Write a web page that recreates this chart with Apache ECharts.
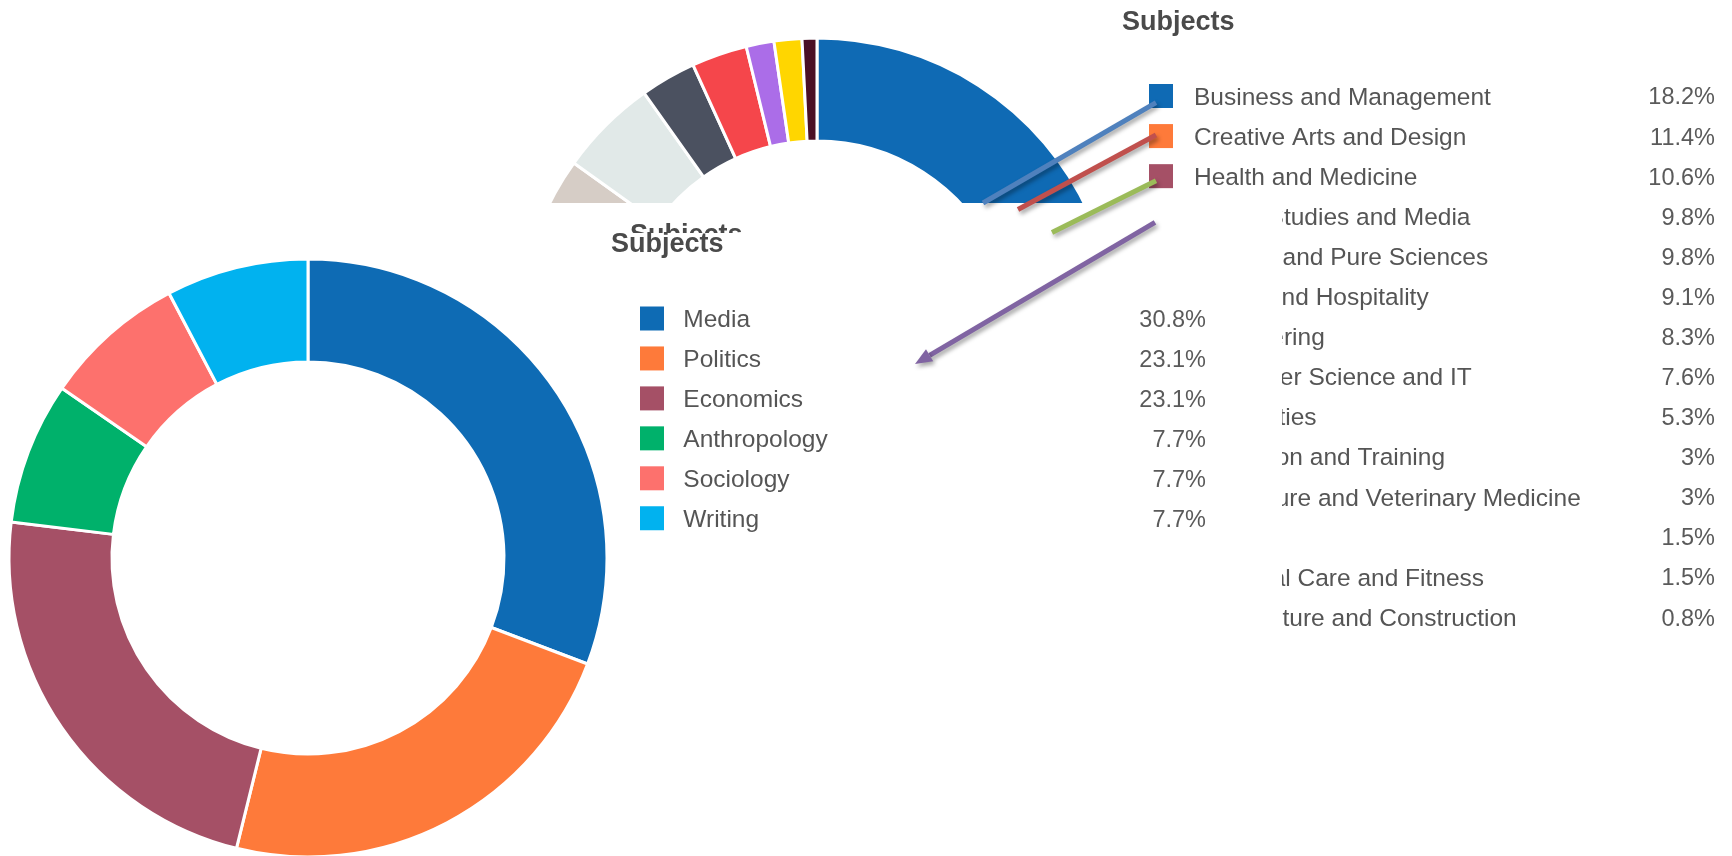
<!DOCTYPE html>
<html>
<head>
<meta charset="utf-8">
<script src="https://cdn.jsdelivr.net/npm/echarts@6.0.0/dist/echarts.min.js"></script>
<style>
  html, body { margin: 0; padding: 0; background: #ffffff; }
  #chart { width: 1732px; height: 856px; }
</style>
</head>
<body>
<div id="chart"></div>
<script>
// Overall subject mix (percent of courses)
const subjects = [
  'Business and Management', 'Creative Arts and Design', 'Health and Medicine',
  'Social Studies and Media', 'Applied and Pure Sciences', 'Travel and Hospitality',
  'Engineering', 'Computer Science and IT', 'Humanities', 'Education and Training',
  'Agriculture and Veterinary Medicine', 'Law', 'Personal Care and Fitness',
  'Architecture and Construction'
];
const subjectShares = [18.2, 11.4, 10.6, 9.8, 9.8, 9.1, 8.3, 7.6, 5.3, 3, 3, 1.5, 1.5, 0.8];
const subjectColors = [
  '#0f6ab4', '#fe7a3a', '#a55066', '#00b16a', '#fe7070', '#00b2ef',
  '#8cc152', '#d6cdc6', '#e1e9e8', '#4b5160', '#f5464b', '#ab6de8', '#ffd600', '#4a1026'
];

// Breakdown of "Social Studies and Media"
const socialTopics = ['Media', 'Politics', 'Economics', 'Anthropology', 'Sociology', 'Writing'];
const socialShares = [30.8, 23.1, 23.1, 7.7, 7.7, 7.7];
const socialColors = ['#0e6bb4', '#fe7a3a', '#a55066', '#00b16b', '#fd716d', '#01b2ef'];

const titleText = 'Subjects';
const FONT = '"Liberation Sans", Arial, sans-serif';

function donut(names, values, colors, center, z) {
  return {
    type: 'pie',
    z: z,
    center: center,
    radius: [196, 299],
    startAngle: 90,
    clockwise: true,
    silent: true,
    animation: false,
    label: { show: false },
    labelLine: { show: false },
    itemStyle: { borderColor: '#ffffff', borderWidth: 3 },
    data: names.map((n, i) => ({ name: n, value: values[i], itemStyle: { color: colors[i] } }))
  };
}

// Legend with the name on the left and its share right-aligned in a column
function legendBlock(names, values, left, top, gap, padLeft, z) {
  const lookup = {};
  names.forEach((n, i) => { lookup[n] = values[i]; });
  const total = 537;
  const dropText = 4; // nudges the text a little below the swatch centre
  return {
    orient: 'vertical',
    left: left,
    top: top,
    padding: 0,
    z: z,
    icon: 'rect',
    itemWidth: 24,
    itemHeight: 24,
    itemGap: gap,
    selectedMode: false,
    itemStyle: { borderWidth: 0 },
    data: names,
    formatter: name => '{n|' + name + '}{v|' + lookup[name] + '%}',
    textStyle: {
      rich: {
        n: {
          fontFamily: FONT, fontSize: 24.5, color: '#555555', lineHeight: 24,
          width: total - 100 - padLeft, padding: [dropText, 0, 0, padLeft]
        },
        v: {
          fontFamily: FONT, fontSize: 23.5, color: '#5a5a5a', lineHeight: 24,
          width: 100, align: 'right', padding: [dropText, 0, 0, 0]
        }
      }
    }
  };
}

function arrowLine(x1, y1, x2, y2, color) {
  return {
    type: 'line', z: 100, silent: true,
    shape: { x1: x1, y1: y1, x2: x2, y2: y2 },
    style: {
      stroke: color, lineWidth: 5, lineCap: 'butt',
      shadowColor: 'rgba(0,0,0,0.35)', shadowBlur: 4, shadowOffsetX: 2, shadowOffsetY: 3
    }
  };
}

const chart = echarts.init(document.getElementById('chart'), null, { renderer: 'canvas' });

chart.setOption({
  animation: false,
  backgroundColor: '#ffffff',
  title: [
    {
      text: titleText, left: 1122, top: 9, padding: 0, z: 6,
      textStyle: { fontFamily: FONT, fontSize: 27, fontWeight: 'bold', color: '#4a4a4a' }
    },
    {
      text: titleText, left: 611, top: 231.5, padding: 0, z: 60,
      textStyle: { fontFamily: FONT, fontSize: 27, fontWeight: 'bold', color: '#4a4a4a' }
    }
  ],
  legend: [
    legendBlock(subjects, subjectShares, 1149, 81.5, 11.08, 16, 4),
    legendBlock(socialTopics, socialShares, 640, 304, 10.95, 14.3, 60)
  ],
  series: [
    donut(subjects, subjectShares, subjectColors, [817, 337], 2),
    donut(socialTopics, socialShares, socialColors, [308, 558], 60)
  ],
  graphic: [
    // panel laid over the lower part of the overall chart
    { type: 'rect', z: 50, silent: true,
      shape: { x: 0, y: 203, width: 1282, height: 653 }, style: { fill: '#ffffff' } },
    { type: 'text', z: 52, silent: true, x: 630, y: 222.5,
      style: { text: titleText, fontFamily: FONT, fontSize: 27, fontWeight: 'bold', fill: '#4a4a4a' } },
    // panel holding the Social Studies breakdown
    { type: 'rect', z: 54, silent: true,
      shape: { x: 0, y: 233, width: 1282, height: 623 }, style: { fill: '#ffffff' } },
    // pointers from the legend
    arrowLine(1156, 102.7, 983, 203, '#4f81bd'),
    arrowLine(1156, 135, 1018, 209.5, '#c0504d'),
    arrowLine(1156, 180.7, 1052, 232.5, '#9bbb59'),
    arrowLine(1155, 222.3, 929.6, 355.3, '#8064a2'),
    { type: 'polygon', z: 100, silent: true,
      shape: { points: [[915, 364], [933.2, 361.3], [926.0, 349.3]] },
      style: { fill: '#8064a2', shadowColor: 'rgba(0,0,0,0.35)', shadowBlur: 4, shadowOffsetX: 2, shadowOffsetY: 3 } }
  ]
});
</script>
</body>
</html>
